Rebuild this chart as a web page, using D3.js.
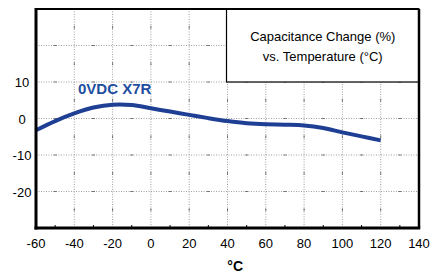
<!DOCTYPE html>
<html>
<head>
<meta charset="utf-8">
<script src="https://cdn.jsdelivr.net/npm/d3@7"></script>
<style>
  body { margin: 0; background: #fff; }
  text { font-family: "Liberation Sans", Arial, sans-serif; }
</style>
</head>
<body>
<div id="vis-holder"></div>
<script>
// Data
const temps = [-60, -50, -40, -30, -20, -10, 0, 10, 20, 30, 40, 50, 60, 70, 80, 90, 100, 110, 120];
const capChange = [-3.2, -0.7, 1.4, 3.0, 3.8, 3.7, 2.8, 1.9, 1.0, 0.1, -0.7, -1.3, -1.6, -1.7, -1.9, -2.6, -3.8, -4.9, -6.0];
const xTicks = [-60, -40, -20, 0, 20, 40, 60, 80, 100, 120, 140];
const yTicks = [-20, -10, 0, 10];
const yGrid = [-20, -10, 0, 10, 20];

const width = 430;
const height = 276;
const margin = { top: 9, right: 11, bottom: 48, left: 36 };

const svg = d3.select("#vis-holder")
    .append("svg")
    .attr("width", width)
    .attr("height", height);

const x = d3.scaleLinear()
    .domain([-60, 140])
    .range([margin.left, width - margin.right]);

const y = d3.scaleLinear()
    .domain([-30, 30])
    .range([height - margin.bottom, margin.top]);

// Grid lines (dotted)
svg.append("g")
    .selectAll("line")
    .data(xTicks.slice(1, -1))
    .enter()
    .append("line")
    .attr("x1", (d) => x(d)).attr("x2", (d) => x(d))
    .attr("y1", y(30)).attr("y2", y(-30))
    .attr("stroke", "#888")
    .attr("stroke-width", 0.8)
    .attr("stroke-dasharray", "1,1.5");

svg.append("g")
    .selectAll("line")
    .data(yGrid)
    .enter()
    .append("line")
    .attr("x1", x(-60)).attr("x2", x(140))
    .attr("y1", (d) => y(d)).attr("y2", (d) => y(d))
    .attr("stroke", "#888")
    .attr("stroke-width", 0.8)
    .attr("stroke-dasharray", "1,1.5");

// small marks at minor positions on grid lines
const minorX = d3.range(-50, 140, 20);
const minorY = d3.range(-25, 30, 10);
svg.append("g")
    .selectAll("line")
    .data(d3.cross(minorX, yGrid))
    .enter()
    .append("line")
    .attr("x1", (d) => x(d[0]) - 1.5).attr("x2", (d) => x(d[0]) + 1.5)
    .attr("y1", (d) => y(d[1])).attr("y2", (d) => y(d[1]))
    .attr("stroke", "#555")
    .attr("stroke-width", 0.8);
svg.append("g")
    .selectAll("line")
    .data(d3.cross(xTicks.slice(1, -1), minorY))
    .enter()
    .append("line")
    .attr("x1", (d) => x(d[0])).attr("x2", (d) => x(d[0]))
    .attr("y1", (d) => y(d[1]) - 1.5).attr("y2", (d) => y(d[1]) + 1.5)
    .attr("stroke", "#555")
    .attr("stroke-width", 0.8);
// minor ticks on bottom axis
svg.append("g")
    .selectAll("line")
    .data(minorX)
    .enter()
    .append("line")
    .attr("x1", (d) => x(d)).attr("x2", (d) => x(d))
    .attr("y1", y(-30)).attr("y2", y(-30) - 3)
    .attr("stroke", "#000")
    .attr("stroke-width", 1);

// Title box
const boxLeft = x(40) - 1;
svg.append("rect")
    .attr("x", boxLeft)
    .attr("y", y(30))
    .attr("width", x(140) - boxLeft)
    .attr("height", y(10) - y(30))
    .attr("fill", "#fff")
    .attr("stroke", "#000")
    .attr("stroke-width", 1.2);

const boxCx = (boxLeft + x(140)) / 2;
svg.append("text")
    .attr("x", boxCx).attr("y", 41)
    .attr("text-anchor", "middle")
    .attr("font-size", "13px")
    .text("Capacitance Change (%)");
svg.append("text")
    .attr("x", boxCx).attr("y", 61)
    .attr("text-anchor", "middle")
    .attr("font-size", "13px")
    .text("vs. Temperature (°C)");

// Curve
const line = d3.line()
    .x((d, i) => x(temps[i]))
    .y((d) => y(d))
    .curve(d3.curveCatmullRom);

svg.append("path")
    .datum(capChange)
    .attr("d", line)
    .attr("fill", "none")
    .attr("stroke", "#1f3f94")
    .attr("stroke-width", 4);

svg.append("text")
    .attr("x", 78)
    .attr("y", y(6.8))
    .attr("font-size", "15px")
    .attr("font-weight", "bold")
    .attr("fill", "#1f4ea0")
    .text("0VDC X7R");

// Frame
svg.append("line")
    .attr("x1", x(-60)).attr("x2", x(140))
    .attr("y1", y(30)).attr("y2", y(30))
    .attr("stroke", "#000").attr("stroke-width", 2);
svg.append("line")
    .attr("x1", x(140)).attr("x2", x(140))
    .attr("y1", y(30)).attr("y2", y(-30))
    .attr("stroke", "#000").attr("stroke-width", 2.5);
svg.append("line")
    .attr("x1", x(-60)).attr("x2", x(-60))
    .attr("y1", y(30) - 1).attr("y2", y(-30) + 1.5)
    .attr("stroke", "#000").attr("stroke-width", 3);
svg.append("line")
    .attr("x1", x(-60) - 1.5).attr("x2", x(140) + 1.2)
    .attr("y1", y(-30)).attr("y2", y(-30))
    .attr("stroke", "#000").attr("stroke-width", 3);

// Axis labels
svg.append("g")
    .selectAll("text")
    .data(xTicks)
    .enter()
    .append("text")
    .attr("x", (d) => x(d))
    .attr("y", y(-30) + 20)
    .attr("text-anchor", "middle")
    .attr("font-size", "13px")
    .text((d) => d);

svg.append("g")
    .selectAll("text")
    .data(yTicks)
    .enter()
    .append("text")
    .attr("x", x(-60) - 14)
    .attr("y", (d) => y(d) + 5)
    .attr("text-anchor", "middle")
    .attr("font-size", "13px")
    .text((d) => d);

svg.append("text")
    .attr("x", x(44))
    .attr("y", 271)
    .attr("text-anchor", "middle")
    .attr("font-size", "14px")
    .attr("font-weight", "bold")
    .text("°C");
</script>
</body>
</html>
